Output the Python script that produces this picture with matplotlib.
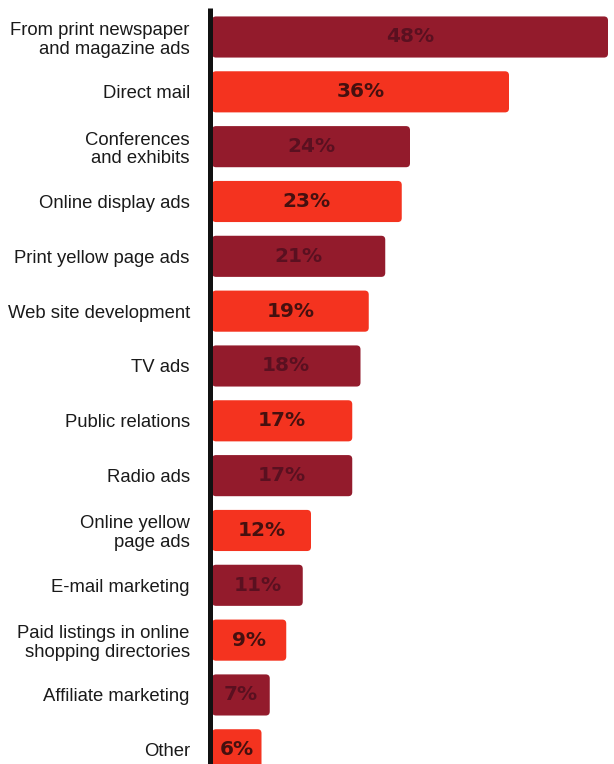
import matplotlib
matplotlib.use("Agg")
import matplotlib.pyplot as plt
from matplotlib.patches import FancyBboxPatch
import numpy as np

# ---------------------------------------------------------
# data
# ---------------------------------------------------------
categories = [
    "From print newspaper\nand magazine ads",
    "Direct mail",
    "Conferences\nand exhibits",
    "Online display ads",
    "Print yellow page ads",
    "Web site development",
    "TV ads",
    "Public relations",
    "Radio ads",
    "Online yellow\npage ads",
    "E-mail marketing",
    "Paid listings in online\nshopping directories",
    "Affiliate marketing",
    "Other",
]
values = [48, 36, 24, 23, 21, 19, 18, 17, 17, 12, 11, 9, 7, 6]

DARK = "#931b2c"
BRIGHT = "#f4331f"
DARK_TXT = "#5a1020"
BRIGHT_TXT = "#45100f"

# ---------------------------------------------------------
# figure
# ---------------------------------------------------------
W, H = 614, 764
fig = plt.figure(figsize=(W / 100, H / 100), dpi=100)
fig.patch.set_facecolor("white")
left_px = 212
ax = fig.add_axes([left_px / W, 0, 1 - left_px / W, 1])
ax.set_facecolor("none")

px_per_unit = 8.25
pitch = 54.83
ax.set_xlim(0, (W - left_px) / px_per_unit)
ax.set_ylim((H - 37) / pitch, -37 / pitch)

y = np.arange(len(values))
colors = [DARK if i % 2 == 0 else BRIGHT for i in range(len(values))]
bars = ax.barh(y, values, height=0.75, color=colors)

# swap plain rectangles for ones with rounded corners
r = 4 / px_per_unit
aspect = (4 / pitch) / r
for b in bars:
    x0, y0 = b.get_x(), b.get_y()
    w, h = b.get_width(), b.get_height()
    ax.add_patch(FancyBboxPatch((x0, y0), w, h,
                                boxstyle=f"round,pad=0,rounding_size={r}",
                                mutation_aspect=aspect,
                                facecolor=b.get_facecolor(), edgecolor="none"))
    b.set_visible(False)

for i, v in enumerate(values):
    ax.text(v / 2, i, f"{v}%", ha="center", va="center",
            fontsize=14.5, fontweight="bold", family="DejaVu Sans",
            color=DARK_TXT if i % 2 == 0 else BRIGHT_TXT)

# black baseline on the left
ax.axvline(-0.3, ymin=0, ymax=1 - 8 / H, color="#111111", lw=3.6,
           clip_on=False, solid_capstyle="butt")

ax.set_yticks(y)
ax.set_yticklabels(categories, fontsize=13.3, family="Liberation Sans",
                   color="#1a1a1a")
for lab in ax.get_yticklabels():
    lab.set_linespacing(1.12)
ax.tick_params(axis="y", length=0, pad=16)
ax.set_xticks([])
for s in ax.spines.values():
    s.set_visible(False)

fig.savefig("out.png", dpi=100)
